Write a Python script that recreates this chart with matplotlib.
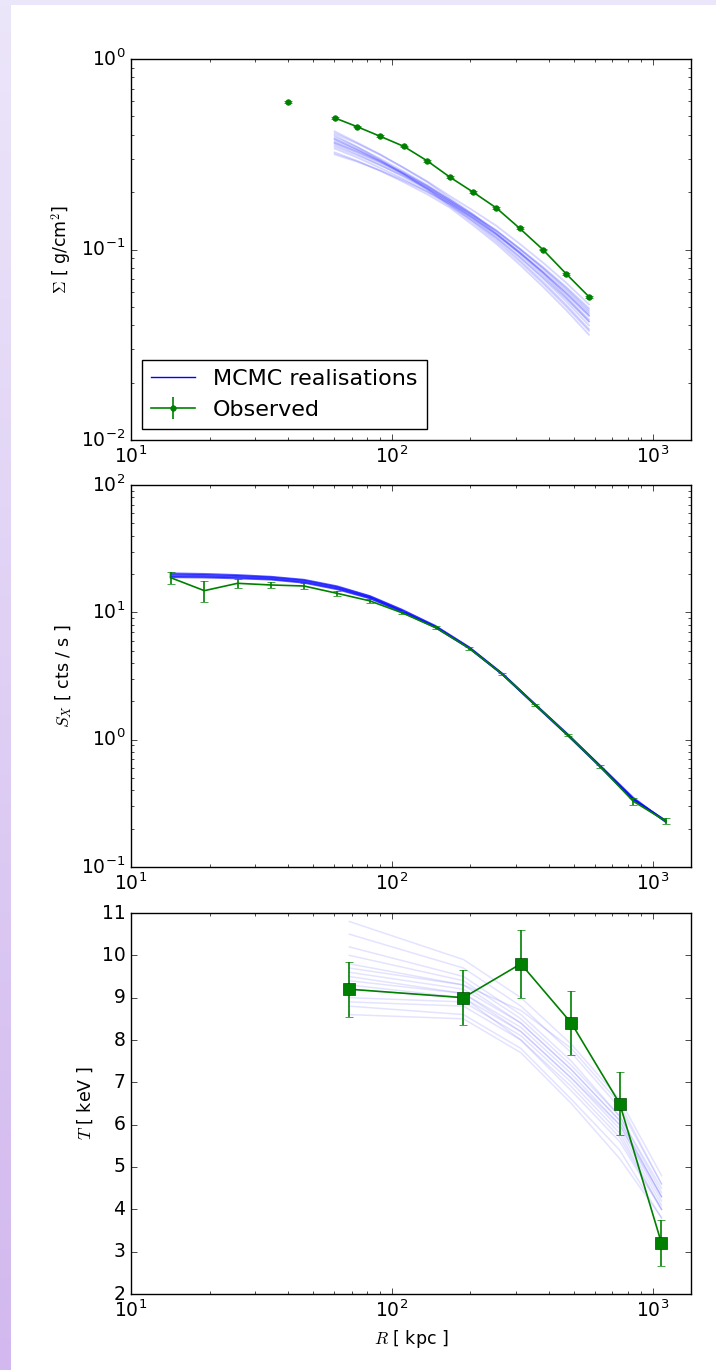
import numpy as np
import matplotlib
matplotlib.use("Agg")
import matplotlib.pyplot as plt
from matplotlib.lines import Line2D

plt.style.use("classic")
plt.rcParams["figure.facecolor"] = "white"
plt.rcParams["savefig.facecolor"] = "white"
plt.rcParams["xtick.labelsize"] = 13.5
plt.rcParams["ytick.labelsize"] = 13.5
plt.rcParams["axes.labelsize"] = 12.5

# ---- surface density profile (top panel)
r_sigma = [39.8, 49.0, 60.3, 73.6, 90.1, 110.9, 136.5, 166.6, 204.8, 251.6, 309.0, 378.5, 464.6, 569.0]
sigma_obs = [0.594, np.nan, 0.491, 0.441, 0.393, 0.348, 0.292, 0.240, 0.200, 0.165, 0.129, 0.100, 0.0747, 0.0565]
sigma_err = [0.006, np.nan, 0.005, 0.004, 0.004, 0.003, 0.003, 0.002, 0.002, 0.002, 0.0015, 0.001, 0.001, 0.0008]

r_sigma_model = [60.3, 73.6, 90.1, 110.9, 136.5, 166.6, 204.8, 251.6, 309.0, 378.5, 464.6, 569.0]
sigma_mcmc = [
    [0.417, 0.364, 0.316, 0.268, 0.226, 0.186, 0.153, 0.122, 0.0966, 0.0754, 0.0570, 0.0429],
    [0.407, 0.360, 0.314, 0.269, 0.228, 0.191, 0.160, 0.133, 0.107, 0.0855, 0.0670, 0.0515],
    [0.389, 0.344, 0.300, 0.257, 0.218, 0.182, 0.152, 0.126, 0.101, 0.0803, 0.0628, 0.0481],
    [0.380, 0.336, 0.293, 0.252, 0.213, 0.178, 0.145, 0.116, 0.0912, 0.0706, 0.0536, 0.0400],
    [0.371, 0.331, 0.292, 0.253, 0.216, 0.182, 0.152, 0.125, 0.100, 0.0792, 0.0615, 0.0470],
    [0.363, 0.324, 0.285, 0.247, 0.211, 0.178, 0.148, 0.121, 0.0966, 0.0762, 0.0590, 0.0449],
    [0.355, 0.317, 0.278, 0.241, 0.206, 0.174, 0.141, 0.113, 0.0881, 0.0679, 0.0514, 0.0382],
    [0.347, 0.312, 0.277, 0.243, 0.209, 0.178, 0.150, 0.125, 0.101, 0.0811, 0.0637, 0.0492],
    [0.339, 0.304, 0.268, 0.234, 0.201, 0.170, 0.141, 0.115, 0.0912, 0.0716, 0.0553, 0.0419],
    [0.323, 0.292, 0.259, 0.226, 0.195, 0.166, 0.134, 0.107, 0.0832, 0.0639, 0.0482, 0.0357],
    [0.316, 0.289, 0.260, 0.230, 0.201, 0.174, 0.146, 0.120, 0.0966, 0.0767, 0.0599, 0.0459],
    [0.398, 0.346, 0.296, 0.249, 0.207, 0.170, 0.138, 0.110, 0.0861, 0.0664, 0.0502, 0.0374],
    [0.363, 0.326, 0.288, 0.250, 0.215, 0.182, 0.149, 0.120, 0.0944, 0.0733, 0.0559, 0.0419],
    [0.380, 0.335, 0.290, 0.248, 0.209, 0.174, 0.145, 0.119, 0.0955, 0.0757, 0.0587, 0.0449],
]

# ---- X-ray surface brightness (middle panel)
r_sx = [14.2, 19.1, 25.6, 34.4, 46.0, 61.6, 82.3, 109.0, 147.0, 198.0, 265.0, 354.0, 472.0, 626.0, 840.0, 1120.0]
sx_obs = [18.7, 14.8, 16.9, 16.4, 16.1, 14.1, 12.3, 9.94, 7.59, 5.22, 3.27, 1.88, 1.09, 0.618, 0.329, 0.229]
sx_err = [2.0, 2.8, 1.5, 1.0, 0.8, 0.6, 0.4, 0.3, 0.2, 0.12, 0.07, 0.04, 0.025, 0.02, 0.02, 0.012]
sx_mcmc = [
    [19.8, 19.6, 19.3, 18.8, 17.8, 15.8, 13.3, 10.4, 7.75, 5.28, 3.28, 1.88, 1.09, 0.625, 0.345, 0.228],
    [19.2, 19.1, 18.8, 18.3, 17.3, 15.4, 13.0, 10.2, 7.65, 5.24, 3.27, 1.88, 1.09, 0.620, 0.340, 0.230],
    [20.2, 20.0, 19.6, 19.0, 18.0, 16.0, 13.4, 10.5, 7.80, 5.30, 3.29, 1.89, 1.10, 0.628, 0.350, 0.226],
    [18.9, 18.8, 18.5, 18.1, 17.1, 15.2, 12.9, 10.1, 7.60, 5.22, 3.26, 1.87, 1.08, 0.618, 0.338, 0.231],
]

# ---- temperature profile (bottom panel)
r_t = [68.6, 188.0, 312.0, 487.0, 746.0, 1079.0]
t_obs = [9.2, 9.0, 9.8, 8.4, 6.5, 3.2]
t_err = [0.65, 0.65, 0.8, 0.75, 0.75, 0.55]
t_mcmc = [
    [10.8, 9.9, 9.0, 7.9, 6.6, 4.8],
    [10.5, 9.7, 8.8, 7.7, 6.4, 4.6],
    [10.2, 9.5, 8.6, 7.5, 6.2, 4.5],
    [10.0, 9.4, 8.5, 7.4, 6.2, 4.4],
    [9.8, 9.3, 8.4, 7.3, 6.1, 4.3],
    [9.6, 9.2, 8.4, 7.3, 6.1, 4.3],
    [9.5, 9.1, 8.3, 7.2, 6.0, 4.2],
    [9.4, 9.1, 8.2, 7.1, 5.9, 4.1],
    [9.2, 9.0, 8.2, 7.1, 6.0, 4.3],
    [9.0, 8.9, 8.1, 7.0, 5.8, 4.0],
    [8.9, 8.8, 8.0, 6.9, 5.7, 4.0],
    [8.8, 8.6, 7.8, 6.6, 5.4, 3.8],
    [8.6, 8.5, 7.7, 6.5, 5.2, 3.8],
    [9.7, 9.3, 8.7, 7.8, 6.5, 4.6],
    [9.3, 9.0, 8.0, 6.8, 5.6, 4.0],
]

W, H = 716, 1370
fig = plt.figure(figsize=(W / 100, H / 100), dpi=100)

# slide background: purple strip on the left, pale band on top
bg = fig.add_axes([0, 0, 1, 1], zorder=-10)
bg.set_xlim(0, W)
bg.set_ylim(H, 0)
bg.axis("off")
grad = np.linspace(0, 1, 256)[:, None, None]
top_c = np.array([236, 230, 250]) / 255.0
bot_c = np.array([210, 184, 238]) / 255.0
strip = top_c * (1 - grad) + bot_c * grad
bg.imshow(strip, extent=[0, 11, H, 0], aspect="auto")
bg.add_patch(plt.Rectangle((0, 0), W, 5, color=top_c, lw=0))

left = 131 / W
width = (691 - 131) / W
ax1 = fig.add_axes([left, 1 - 440 / H, width, 381 / H])
ax2 = fig.add_axes([left, 1 - 867 / H, width, 382 / H])
ax3 = fig.add_axes([left, 1 - 1294 / H, width, 381 / H])

green = (0, 0.5, 0)

# top: surface density
for curve in sigma_mcmc:
    ax1.plot(r_sigma_model, curve, color="b", alpha=0.16, lw=1.3)
ax1.errorbar(r_sigma, sigma_obs, yerr=sigma_err, color=green, marker="o",
             ms=4, mec=green, lw=1.2, capsize=3)
ax1.set_xscale("log")
ax1.set_yscale("log")
ax1.set_xlim(10, 1400)
ax1.set_ylim(1e-2, 1)
ax1.set_ylabel(r"$\Sigma$ [ g/cm$^2$]")
handles = [Line2D([], [], color="b", lw=1.0),
           ax1.errorbar([], [], yerr=[], color=green, marker="o", ms=4, mec=green,
                        lw=1.2, capsize=3)]
ax1.legend(handles, ["MCMC realisations", "Observed"], loc="lower left",
           numpoints=1, fontsize=16)

# middle: surface brightness
for curve in sx_mcmc:
    ax2.plot(r_sx, curve, color="b", alpha=0.6, lw=1.5)
ax2.errorbar(r_sx, sx_obs, yerr=sx_err, color=green, lw=1.2, capsize=3)
ax2.set_xscale("log")
ax2.set_yscale("log")
ax2.set_xlim(10, 1400)
ax2.set_ylim(1e-1, 1e2)
ax2.set_ylabel(r"$S_X$ [ cts / s ]")

# bottom: temperature
for curve in t_mcmc:
    ax3.plot(r_t, curve, color="b", alpha=0.11, lw=1.1)
ax3.errorbar(r_t, t_obs, yerr=t_err, color=green, marker="s", ms=8,
             mec=(0, 0.3, 0), lw=1.2, capsize=3)
ax3.set_xscale("log")
ax3.set_xlim(10, 1400)
ax3.set_ylim(2, 11)
ax3.set_ylabel(r"$T$ [ keV ]")
ax3.set_xlabel(r"$R$ [ kpc ]")

fig.savefig("out.png", dpi=100)
